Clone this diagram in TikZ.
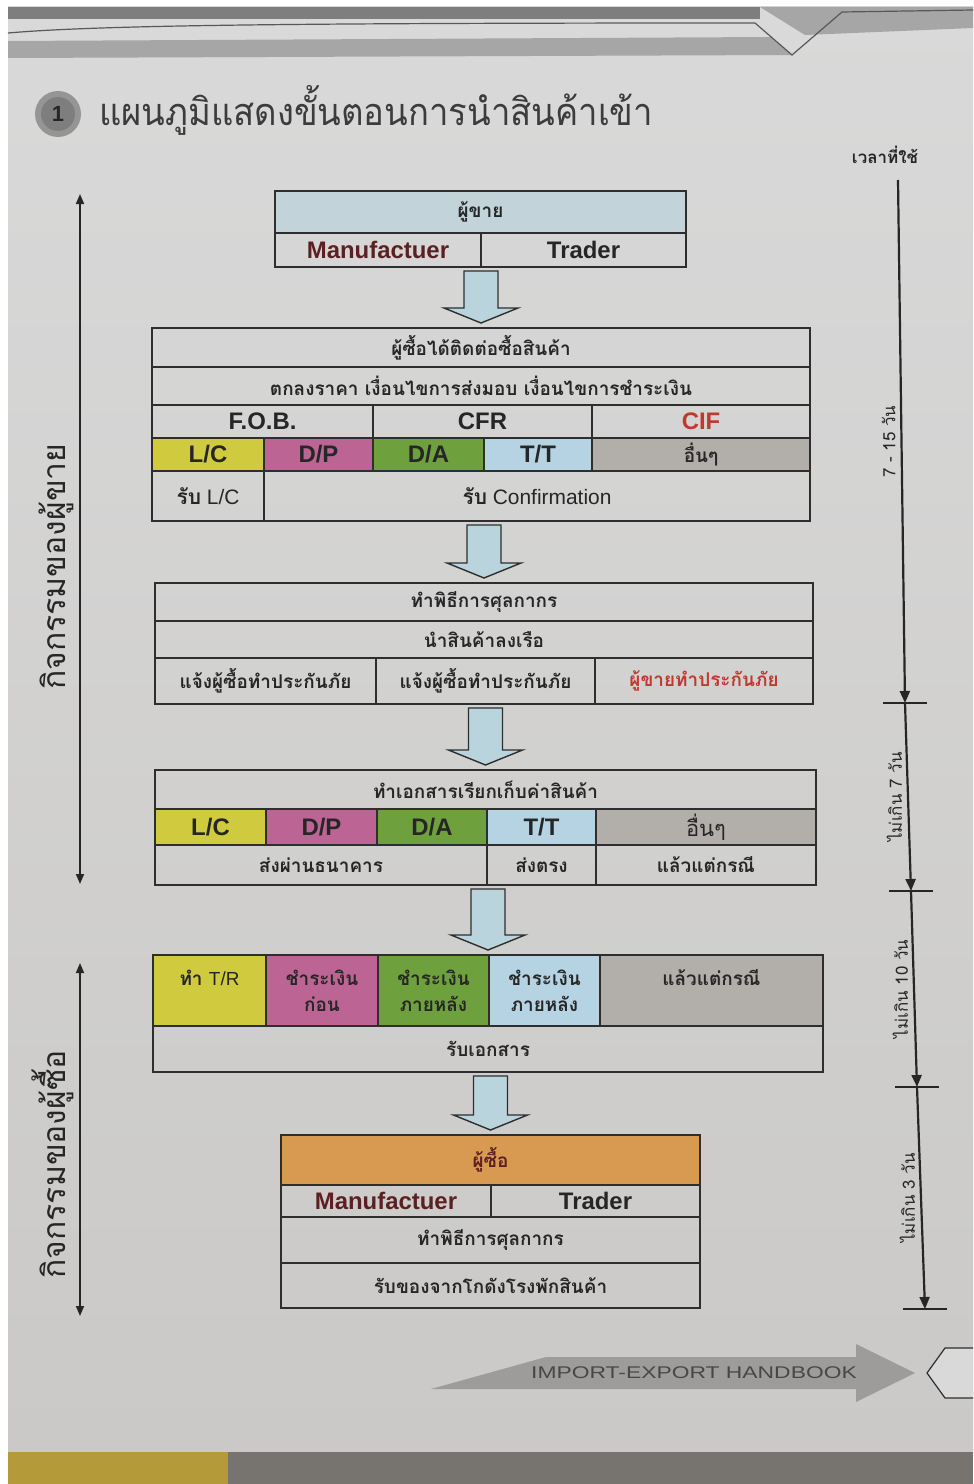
\documentclass[tikz,border=0pt]{standalone}
\usepackage{fontspec}
\setmainfont{Liberation Sans}
\newfontfamily\thai[Script=Thai]{Loma}
\usetikzlibrary{calc,positioning,arrows.meta}

\definecolor{pagetop}{HTML}{D9D9D9}
\definecolor{pagebot}{HTML}{CAC9C7}
\definecolor{edge}{HTML}{2E2E2E}
\definecolor{ink}{HTML}{262626}
\definecolor{maroon}{HTML}{5C1F22}
\definecolor{redt}{HTML}{C0392F}
\definecolor{sellerc}{HTML}{C3D3DA}
\definecolor{buyerc}{HTML}{D89A50}
\definecolor{cyel}{HTML}{D0CB3E}
\definecolor{cpink}{HTML}{BC6494}
\definecolor{cgreen}{HTML}{6FA03E}
\definecolor{cblue}{HTML}{B5D3E3}
\definecolor{cgrey}{HTML}{B2AEAA}
\definecolor{arrowc}{HTML}{B9D4DD}
\definecolor{bandA}{HTML}{7E7E7E}
\definecolor{bandB}{HTML}{A6A6A6}
\definecolor{handc}{HTML}{9E9C9A}
\definecolor{stripy}{HTML}{B59A3A}
\definecolor{stripd}{HTML}{77736F}

\tikzstyle{cell}=[draw=edge, line width=1.6bp, rectangle, anchor=north west, inner sep=0pt, outer sep=0pt, align=center, text=ink]
\tikzstyle{thaitxt}=[font=\thai\bfseries\fontsize{19}{26}\selectfont]
\tikzstyle{latin}=[font=\bfseries\fontsize{24}{26}\selectfont]
\tikzstyle{plain}=[font=\fontsize{21}{24}\selectfont]
\tikzstyle{fatarrow}=[draw=edge, line width=1.4bp, fill=arrowc]
\tikzstyle{timeline}=[draw=ink, line width=2.2bp, -{Triangle[length=12bp,width=10bp]}]
\tikzstyle{tickmark}=[draw=ink, line width=1.4bp]
\tikzstyle{sidespan}=[draw=ink, line width=1.6bp, {Triangle[length=10bp,width=8bp]}-{Triangle[length=10bp,width=8bp]}]
\tikzstyle{daylabel}=[rotate=90, anchor=south, inner sep=5bp, text=ink, font=\thai\fontsize{17}{20}\selectfont]
\tikzstyle{sidelabel}=[rotate=90, anchor=south, inner sep=5bp, text=ink, font=\thai\fontsize{32}{36}\selectfont]

% block arrow from the bottom of one table to the top of the next
\newcommand{\blockarrow}[2]{%
  \draw[fatarrow] ($(#1.south -| #2)+(-17,4)$) -- ($(#1.south -| #2)+(17,4)$)
    -- ($(#2)+(17,-20)$) -- ($(#2)+(37,-20)$) -- ($(#2)+(0,-5)$)
    -- ($(#2)+(-37,-20)$) -- ($(#2)+(-17,-20)$) -- cycle;}

\begin{document}
\begin{tikzpicture}[x=1bp,y=-1bp]
% page
\fill[white] (0,0) rectangle (973,1484);
\useasboundingbox (0,0) rectangle (973,1484);
\shade[top color=pagetop, bottom color=pagebot] (8,7) rectangle (973,1452);
\fill[bandA] (8,7) rectangle (760,19);
\fill[bandB] (760,7) -- (973,7) -- (973,28) -- (805,35) -- cycle;
\fill[bandB] (8,41) -- (771,37) -- (792,55) -- (8,58) -- cycle;
\draw[edge!80, line width=1.2bp] (8,33) .. controls (100,25) and (300,23) .. (755,23) -- (792,55) -- (842,12) -- (973,10);
\fill[stripy] (8,1452) rectangle (228,1484);
\fill[stripd] (228,1452) rectangle (973,1484);

% title
\fill[bandB!90!black] (58,114) circle (23bp);
\fill[bandA] (58,114) circle (17bp);
\node[font=\bfseries\fontsize{22}{24}\selectfont, text=ink] (num) at (58,114) {1};
\node[anchor=west, xscale=0.915, text=ink!90, font=\thai\fontsize{38}{42}\selectfont] (title) at (96,110) {แผนภูมิแสดงขั้นตอนการนำสินค้าเข้า};

% seller
\node[cell, fill=sellerc, minimum width=411bp, minimum height=42bp, thaitxt] (seller) at (275,191) {ผู้ขาย};
\node[cell, minimum width=206bp, minimum height=34bp, latin, text=maroon] (sman) at (seller.south west) {Manufactuer};
\node[cell, minimum width=205bp, minimum height=34bp, latin] (strader) at (sman.north east) {Trader};

% deal
\node[cell, minimum width=658bp, minimum height=39bp, thaitxt] (deal) at (152,328) {ผู้ซื้อได้ติดต่อซื้อสินค้า};
\node[cell, minimum width=658bp, minimum height=38bp, thaitxt] (terms) at (deal.south west) {ตกลงราคา เงื่อนไขการส่งมอบ เงื่อนไขการชำระเงิน};
\node[cell, minimum width=221bp, minimum height=33bp, latin] (fob) at (terms.south west) {F.O.B.};
\node[cell, minimum width=219bp, minimum height=33bp, latin] (cfr) at (fob.north east) {CFR};
\node[cell, minimum width=218bp, minimum height=33bp, latin, text=redt] (cif) at (cfr.north east) {CIF};
\foreach \nm/\x/\w/\c/\t in {dlc/152/112/cyel/{L/C}, ddp/264/109/cpink/{D/P}, dda/373/111/cgreen/{D/A}, dtt/484/108/cblue/{T/T}, doth/592/218/cgrey/{\thai\fontsize{19}{22}\selectfont อื่นๆ}}
  \node[cell, fill=\c, minimum width=\w bp, minimum height=33bp, latin] (\nm) at (\x,438) {\t};
\node[cell, minimum width=112bp, minimum height=50bp, plain] (rlc) at (152,471) {{\thai\bfseries รับ} L/C};
\node[cell, minimum width=546bp, minimum height=50bp, plain] (rconf) at (rlc.north east) {{\thai\bfseries รับ} Confirmation};

% customs
\node[cell, minimum width=658bp, minimum height=38bp, thaitxt] (customs) at (155,583) {ทำพิธีการศุลกากร};
\node[cell, minimum width=658bp, minimum height=37bp, thaitxt] (loading) at (customs.south west) {นำสินค้าลงเรือ};
\node[cell, minimum width=221bp, minimum height=46bp, thaitxt] (insa) at (loading.south west) {แจ้งผู้ซื้อทำประกันภัย};
\node[cell, minimum width=219bp, minimum height=46bp, thaitxt] (insb) at (insa.north east) {แจ้งผู้ซื้อทำประกันภัย};
\node[cell, minimum width=218bp, minimum height=46bp, thaitxt, text=redt] (insc) at (insb.north east) {ผู้ขายทำประกันภัย};

% documents
\node[cell, minimum width=661bp, minimum height=39bp, thaitxt] (docs) at (155,770) {ทำเอกสารเรียกเก็บค่าสินค้า};
\foreach \nm/\x/\w/\c/\t in {qlc/155/111/cyel/{L/C}, qdp/266/111/cpink/{D/P}, qda/377/110/cgreen/{D/A}, qtt/487/109/cblue/{T/T}, qoth/596/220/cgrey/{\thai\mdseries\fontsize{22}{24}\selectfont อื่นๆ}}
  \node[cell, fill=\c, minimum width=\w bp, minimum height=36bp, latin] (\nm) at (\x,809) {\t};
\node[cell, minimum width=332bp, minimum height=40bp, thaitxt] (bank) at (155,845) {ส่งผ่านธนาคาร};
\node[cell, minimum width=109bp, minimum height=40bp, thaitxt] (direct) at (bank.north east) {ส่งตรง};
\node[cell, minimum width=220bp, minimum height=40bp, thaitxt] (bycase) at (direct.north east) {แล้วแต่กรณี};

% payment
\foreach \nm/\x/\w/\c/\t in {ptr/153/113/cyel/{ทำ {\normalfont T/R}\\\phantom{ก}}, pbefore/266/112/cpink/{ชำระเงิน\\ก่อน}, pafter/378/111/cgreen/{ชำระเงิน\\ภายหลัง}, pafterb/489/111/cblue/{ชำระเงิน\\ภายหลัง}, pcase/600/223/cgrey/{แล้วแต่กรณี\\\phantom{ก}}}
  \node[cell, fill=\c, minimum width=\w bp, minimum height=71bp, thaitxt] (\nm) at (\x,955) {\t};
\node[cell, minimum width=670bp, minimum height=46bp, thaitxt] (rcvdocs) at (ptr.south west) {รับเอกสาร};
\coordinate (paytop) at ($(ptr.north west)!.5!(pcase.north east)$);

% buyer
\node[cell, fill=buyerc, minimum width=419bp, minimum height=50bp, thaitxt, text=maroon] (buyer) at (281,1135) {ผู้ซื้อ};
\node[cell, minimum width=210bp, minimum height=32bp, latin, text=maroon] (bman) at (buyer.south west) {Manufactuer};
\node[cell, minimum width=209bp, minimum height=32bp, latin] (btrader) at (bman.north east) {Trader};
\node[cell, minimum width=419bp, minimum height=46bp, thaitxt] (bcustoms) at (bman.south west) {ทำพิธีการศุลกากร};
\node[cell, minimum width=419bp, minimum height=45bp, thaitxt] (pickup) at (bcustoms.south west) {รับของจากโกดังโรงพักสินค้า};

% arrows between the steps
\blockarrow{sman}{deal.north}
\blockarrow{rconf}{customs.north}
\blockarrow{insa}{docs.north}
\blockarrow{bank}{paytop}
\blockarrow{rcvdocs}{buyer.north}

% who does it
\coordinate (s0) at (80,194);
\coordinate (s1) at (80,884);
\coordinate (b0) at (80,963);
\coordinate (b1) at (80,1316);
\draw[sidespan] (s0) -- node[sidelabel, pos=0.54] (sellside) {กิจกรรมของผู้ขาย} (s1);
\draw[sidespan] (b0) -- node[sidelabel, pos=0.57] (buyside) {กิจกรรมของผู้ซื้อ} (b1);

% time needed
\node[font=\thai\bfseries\fontsize{17}{20}\selectfont, text=ink] (timehead) at (885,155) {เวลาที่ใช้};
\coordinate (t0) at (898,180);
\coordinate (t1) at (905,703);
\coordinate (t2) at (911,891);
\coordinate (t3) at (917,1087);
\coordinate (t4) at (925,1309);
\draw[timeline] (t0) -- node[daylabel] (d1) {7 - 15 วัน} (t1);
\draw[timeline] (t1) -- node[daylabel] (d2) {ไม่เกิน 7 วัน} (t2);
\draw[timeline] (t2) -- node[daylabel] (d3) {ไม่เกิน 10 วัน} (t3);
\draw[timeline] (t3) -- node[daylabel] (d4) {ไม่เกิน 3 วัน} (t4);
\foreach \t in {t1,t2,t3,t4}
  \draw[tickmark] ($(\t)+(-22,0)$) -- ($(\t)+(22,0)$);

% footer
\fill[handc] (431,1389) -- (546,1357) -- (856,1357) -- (856,1344) -- (915,1373) -- (856,1402) -- (856,1389) -- cycle;
\node[text=ink!85, font=\fontsize{17}{20}\selectfont, xscale=1.35] (hbook) at (694,1373) {IMPORT-EXPORT HANDBOOK};
\draw[edge, line width=1.2bp, fill=pagetop] (973,1348) -- (945,1348) -- (927,1373) -- (945,1398) -- (973,1398);
\end{tikzpicture}
\end{document}
